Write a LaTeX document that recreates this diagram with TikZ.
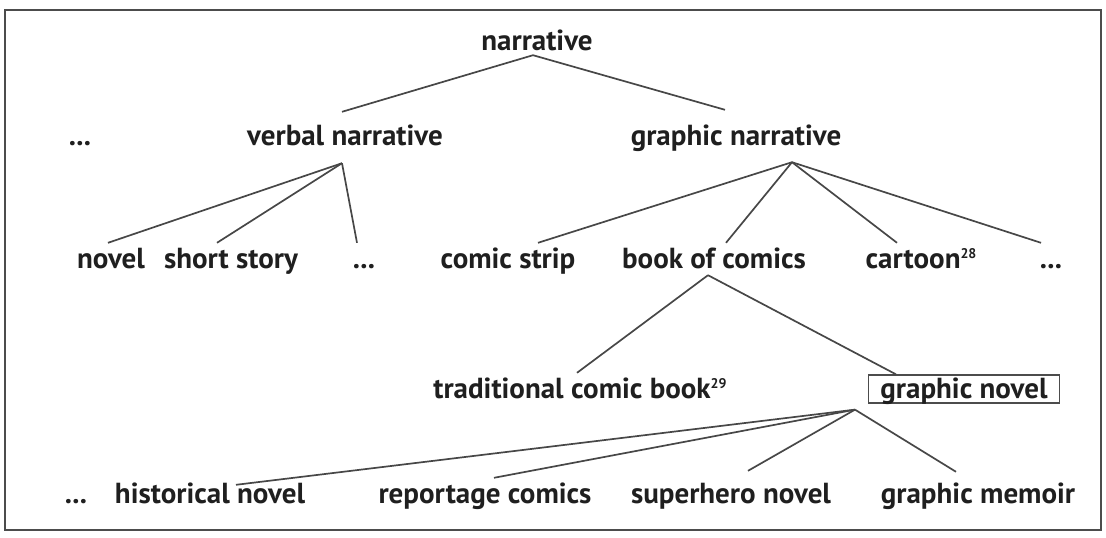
\documentclass[tikz,border=0pt]{standalone}
\usepackage{fontspec}
\setmainfont{PT Sans}
\usetikzlibrary{calc}
\newcommand{\fnote}[1]{\raisebox{0.32em}{\fontsize{14}{14}\selectfont #1}}
\tikzset{
  lbl/.style={anchor=base,inner xsep=0pt,inner ysep=5pt,text height=20pt,text depth=6pt,
    font=\fontsize{29}{32}\selectfont\bfseries,text=black!88},
  boxed/.style={lbl,draw=black!70,line width=1.3pt,inner xsep=6pt,inner ysep=3pt,
    text depth=2pt,minimum width=191pt},
  branch/.style={line width=1.7pt,black!72},
  frame/.style={line width=2pt,black!70},
}
\begin{document}
\begin{tikzpicture}[x=1pt,y=-1pt]
  \useasboundingbox (0,0) rectangle (1106,538);
  \draw[frame] (5,10) rectangle (1101,530);
  % levels of the taxonomy, one row each
  \node[lbl] (nar) at (537,50) {narrative};
  \node[lbl] (dl) at (80,145) {...};
  \node[lbl] (vn) at (345,145) {verbal narrative};
  \node[lbl] (gn) at (736,145) {graphic narrative};
  \node[lbl] (nov) at (111,268) {novel};
  \node[lbl] (ss) at (231,268) {short story};
  \node[lbl] (dv) at (364,268) {...};
  \node[lbl] (cs) at (508,268) {comic strip};
  \node[lbl] (boc) at (714,268) {book of comics};
  \node[lbl] (ct) at (921,268) {cartoon\fnote{28}};
  \node[lbl] (dg) at (1051,268) {...};
  \node[lbl] (tcb) at (580,398) {traditional comic book\fnote{29}};
  \node[boxed] (gnv) at (964,398) {graphic novel};
  \node[lbl] (db) at (76,503) {...};
  \node[lbl] (hn) at (210,503) {historical novel};
  \node[lbl] (rc) at (485,503) {reportage comics};
  \node[lbl] (sh) at (731,503) {superhero novel};
  \node[lbl] (gm) at (978,503) {graphic memoir};
  % fork points below the parents
  \coordinate (nar-f) at ([xshift=-4pt,yshift=6pt]nar.south);
  \coordinate (vn-f) at ([xshift=-3pt,yshift=-7pt]vn.south);
  \coordinate (gn-f) at ([xshift=56pt,yshift=-6pt]gn.south);
  \coordinate (boc-f) at ([xshift=-6pt,yshift=4pt]boc.south);
  \coordinate (gnv-f) at ([xshift=-109pt,yshift=-6pt]gnv.south);
  % branches
  \draw[branch] (nar-f) -- ([xshift=-3pt,yshift=8pt]vn.north);
  \draw[branch] (nar-f) -- ([xshift=-11pt,yshift=10pt]gn.north);
  \draw[branch] (vn-f) -- ([xshift=-3pt]nov.north);
  \draw[branch] (vn-f) -- ([xshift=-14pt]ss.north);
  \draw[branch] (vn-f) -- ([xshift=-7pt]dv.north);
  \draw[branch] (gn-f) -- ([xshift=30pt]cs.north);
  \draw[branch] (gn-f) -- ([xshift=12pt]boc.north);
  \draw[branch] (gn-f) -- ([xshift=-24pt]ct.north);
  \draw[branch] (gn-f) -- ([xshift=-10pt]dg.north);
  \draw[branch] (boc-f) -- ([xshift=-3pt]tcb.north);
  \draw[branch] (boc-f) -- ([xshift=-68pt]gnv.north);
  \draw[branch] (gnv-f) -- ([xshift=26pt,yshift=-7pt]hn.north);
  \draw[branch] (gnv-f) -- ([xshift=9pt]rc.north);
  \draw[branch] (gnv-f) -- ([xshift=17pt,yshift=7pt]sh.north);
  \draw[branch] (gnv-f) -- ([xshift=-22pt,yshift=6pt]gm.north);
\end{tikzpicture}
\end{document}
